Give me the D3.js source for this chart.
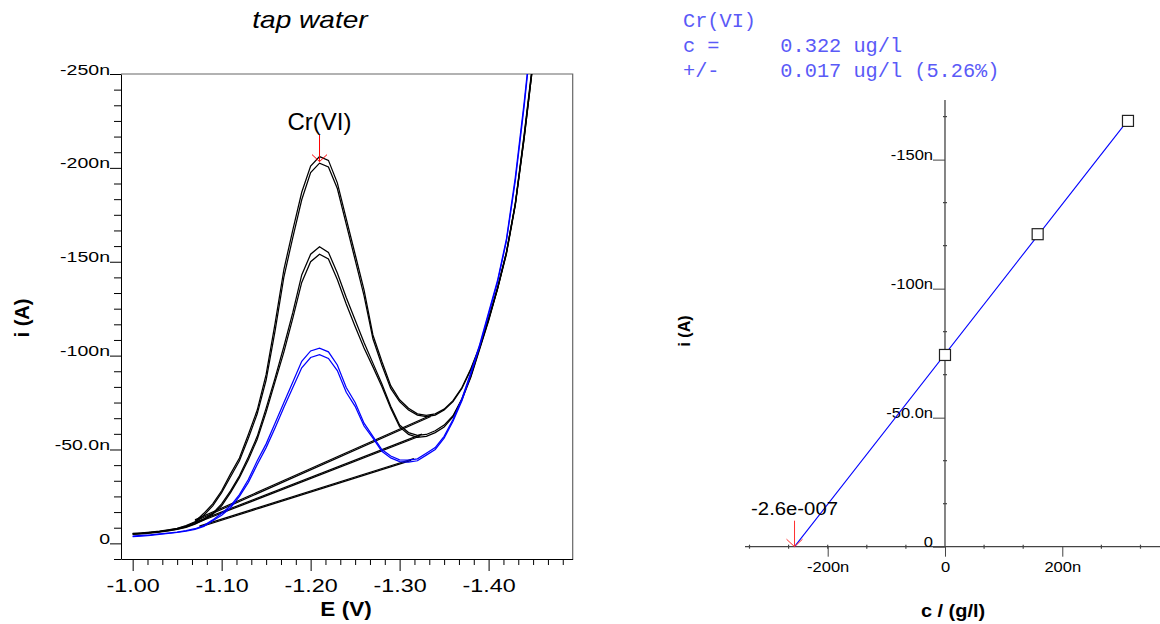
<!DOCTYPE html>
<html>
<head>
<meta charset="utf-8">
<script src="https://cdn.jsdelivr.net/npm/d3@7"></script>
<style>
body { margin: 0; background: #fff; }
svg { display: block; font-family: "Liberation Sans", Arial, sans-serif; }
</style>
</head>
<body>
<svg id="chart" width="1160" height="624"></svg>
<script>
// ---- voltammogram data (E in V, i in nA) ----
const potentials = [-1.00,-1.01,-1.02,-1.03,-1.04,-1.05,-1.06,-1.07,-1.08,-1.09,
  -1.10,-1.11,-1.12,-1.13,-1.14,-1.15,-1.16,-1.17,-1.18,-1.19,
  -1.20,-1.21,-1.22,-1.23,-1.24,-1.25,-1.26,-1.27,-1.28,-1.29,
  -1.30,-1.31,-1.32,-1.33,-1.34,-1.35,-1.36,-1.37,-1.38,-1.39,
  -1.40,-1.41,-1.42,-1.43,-1.44,-1.45];

// sample + 2nd addition (two replicates)
const add2a = [-5.3,-5.6,-6.0,-6.5,-7.2,-8.0,-9.5,-11.5,-16,-21,-28,-37,-45.5,-58,-71,-90,-117,-146,-167,-187,-201,-206,-204,-192,-173,-154,-135,-111,-97,-84,-76.5,-72,-69,-68.2,-69,-71.5,-76,-83,-93,-105,-120,-136,-155,-181,-218,-258];
const add2b = [-5.0,-5.3,-5.8,-6.3,-7.0,-7.8,-9.2,-11.0,-15,-20,-27,-35.5,-44,-56,-69,-87,-113,-142,-163,-183,-197.5,-202.5,-200.5,-189,-170,-151,-132,-109,-95,-82.5,-75.5,-71,-68.3,-67.5,-68.3,-71,-75.5,-82.5,-92.5,-104.5,-119.5,-135.5,-154,-180,-216,-256];
// sample + 1st addition
const add1a = [-5.0,-5.3,-5.7,-6.2,-6.8,-7.6,-8.8,-10.5,-13,-16,-21,-28,-36,-46,-57,-72,-88,-105,-123,-143,-154,-158,-155,-144,-131,-119,-107,-96,-85,-73,-63,-59,-57.5,-58,-60,-63,-68,-77,-89,-104,-119,-136,-155,-181,-217,-257];
const add1b = [-4.8,-5.1,-5.5,-6.0,-6.6,-7.4,-8.5,-10.2,-12.5,-15.5,-20,-27,-35,-44.5,-55.5,-70,-86,-102,-120,-139,-150,-154,-151.5,-140.5,-127.5,-115.5,-104,-94,-83.5,-72,-62,-58,-56.5,-57,-59,-62,-67.5,-76.5,-88.5,-103.5,-118.5,-135.5,-154.5,-180.5,-216,-256];
// sample
const samplea = [-3.9,-4.2,-4.5,-5.0,-5.5,-6.0,-6.8,-7.8,-9.5,-12.5,-16,-20,-26,-34,-44,-53,-64,-75,-86,-97,-102.5,-104,-102,-95,-83,-75,-64,-57,-50,-46.5,-44.5,-44.3,-45,-48,-51,-57,-66,-77,-91,-106,-123,-140,-162,-195,-235,-280];
const sampleb = [-3.6,-3.9,-4.3,-4.8,-5.3,-5.8,-6.5,-7.5,-9,-12,-15,-19,-25,-32.5,-42,-51,-61.5,-72.5,-83,-93.5,-99,-100.5,-98.5,-92,-80.5,-73,-62.5,-56,-49,-45.5,-43.5,-43.3,-44,-47,-50,-56,-65,-76,-90,-105,-122,-139,-161,-193,-233,-278];

const curveSets = [add2a, add2b, add1a, add1b, samplea, sampleb];
const curveColors = ['#000', '#000', '#000', '#000', '#0000ff', '#0000ff'];

// peak baselines: start E, start i, end E, end i
const baseStartE = [-1.07, -1.07, -1.07, -1.07, -1.075, -1.075];
const baseStartI = [-12.5, -11.8, -11.2, -10.6, -9.2, -8.6];
const baseEndE = [-1.337, -1.335, -1.325, -1.323, -1.316, -1.313];
const baseEndI = [-68.6, -67.6, -58.2, -57.2, -45.2, -44.2];

const yTicksL = [0, -50, -100, -150, -200, -250];
const yLabelsL = ['0', '-50.0n', '-100n', '-150n', '-200n', '-250n'];
const xTicksL = [-1.0, -1.1, -1.2, -1.3, -1.4];
const xLabelsL = ['-1.00', '-1.10', '-1.20', '-1.30', '-1.40'];

const peakE = -1.21, peakI = -206, peakName = 'Cr(VI)';

// ---- standard addition data (c in ng/l, i in nA) ----
const stdConc = [0, 158, 312];
const stdCurr = [-74.3, -121.1, -165];
const yTicksR = [0, -50, -100, -150];
const yLabelsR = ['0', '-50.0n', '-100n', '-150n'];
const xTicksR = [-200, 0, 200];
const xLabelsR = ['-200n', '0', '200n'];
const resultLines = ['Cr(VI)', 'c =     0.322 ug/l', '+/-     0.017 ug/l (5.26%)'];
const interceptLabel = '-2.6e-007';

const svg = d3.select('#chart');

function stretch(sel, sx) {
  sel.each(function () {
    const t = d3.select(this);
    const x = +t.attr('x') || 0;
    t.attr('x', x / sx).attr('transform', `scale(${sx},1)`);
  });
}

// ================= left: voltammograms =================
const xL = d3.scaleLinear().domain([-0.9869, -1.4945]).range([121, 572.7]);
const yL = d3.scaleLinear().domain([8.33, -250]).range([559, 74]);

svg.append('clipPath').attr('id', 'clipL')
  .append('rect').attr('x', 121).attr('y', 74).attr('width', 451.7).attr('height', 485);

// frame (top, right)
svg.append('path')
  .attr('d', `M${xL.range()[0]},${yL(-250)}H${xL.range()[1]}V${yL.range()[0]}`)
  .attr('fill', 'none').attr('stroke', '#666').attr('stroke-width', 1.2);

const plotL = svg.append('g').attr('clip-path', 'url(#clipL)');

// baselines
plotL.selectAll('line.base').data(baseStartE).join('line')
  .attr('class', 'base')
  .attr('x1', (d, k) => xL(baseStartE[k])).attr('y1', (d, k) => yL(baseStartI[k]))
  .attr('x2', (d, k) => xL(baseEndE[k])).attr('y2', (d, k) => yL(baseEndI[k]))
  .attr('stroke', '#000').attr('stroke-width', 1.2);

const lineL = d3.line().x((d, k) => xL(potentials[k])).y(d => yL(d));
plotL.selectAll('path.curve').data(curveSets).join('path')
  .attr('class', 'curve')
  .attr('d', lineL)
  .attr('fill', 'none')
  .attr('stroke', (d, k) => curveColors[k])
  .attr('stroke-width', 1.25);

// y axis
const yAxL = svg.append('g').attr('transform', `translate(${xL.range()[0]},0)`)
  .call(d3.axisLeft(yL).tickValues(yTicksL).tickSize(11).tickSizeOuter(0).tickPadding(0)
    .tickFormat((d, k) => yLabelsL[k]));
yAxL.attr('font-size', 15.5).attr('font-family', null);
yAxL.selectAll('.tick text').attr('dy', 0).attr('fill', '#000');
stretch(yAxL.selectAll('.tick text'), 1.26);

const yMinorL = d3.range(8.33, -250, -50 / 6).filter(v => Math.abs(v % 50) > 1);
svg.append('g').attr('transform', `translate(${xL.range()[0]},0)`)
  .call(d3.axisLeft(yL).tickValues(yMinorL).tickSize(7).tickFormat(''))
  .call(g => g.select('.domain').remove());

// x axis
const xAxL = svg.append('g').attr('transform', `translate(0,${yL.range()[0]})`)
  .call(d3.axisBottom(xL).tickValues(xTicksL).tickSize(12).tickSizeOuter(0)
    .tickFormat((d, k) => xLabelsL[k]));
xAxL.attr('font-size', 18.5).attr('font-family', null);
xAxL.selectAll('.tick text').attr('y', 33).attr('dy', 0).attr('fill', '#000');
stretch(xAxL.selectAll('.tick text'), 1.26);

const xMinorL = d3.range(-1.0, -1.49, -0.1 / 6).filter(v => Math.abs(Math.round(v * 10) - v * 10) > 0.01);
svg.append('g').attr('transform', `translate(0,${yL.range()[0]})`)
  .call(d3.axisBottom(xL).tickValues(xMinorL).tickSize(6).tickFormat(''))
  .call(g => g.select('.domain').remove());

// titles
svg.append('text').attr('transform', 'translate(310,28) scale(1.22,1)')
  .attr('text-anchor', 'middle').attr('font-size', 23).attr('font-style', 'italic')
  .text('tap water');
svg.append('text').attr('transform', 'translate(346,616) scale(1.1,1)')
  .attr('text-anchor', 'middle').attr('font-size', 20.5).attr('font-weight', 'bold')
  .text('E (V)');
svg.append('text').attr('transform', 'translate(29,318) rotate(-90)')
  .attr('text-anchor', 'middle').attr('font-size', 20).attr('font-weight', 'bold')
  .text('i (A)');

// peak marker
const px = xL(peakE), py = yL(peakI) + 5;
svg.append('text').attr('x', px).attr('y', 130).attr('text-anchor', 'middle')
  .attr('font-size', 24).text(peakName);
svg.append('path')
  .attr('d', `M${px},135V${py}M${px - 7.5},${py - 7}L${px},${py}L${px + 7.5},${py - 7}`)
  .attr('fill', 'none').attr('stroke', '#ff0000').attr('stroke-width', 1);

// ================= right: standard addition =================
const xR = d3.scaleLinear().domain([-341, 366.6]).range([745, 1160]);
const yR = d3.scaleLinear().domain([0, -173.1]).range([546.7, 100]);
const axisColor = '#444';

// result text
svg.append('g').selectAll('text').data(resultLines).join('text')
  .attr('x', 683).attr('y', (d, k) => 27 + k * 25)
  .attr('font-family', '"Liberation Mono", "Courier New", monospace')
  .attr('font-size', 20.3).attr('fill', '#5a5af7')
  .style('white-space', 'pre')
  .text(d => d);

// axes lines
svg.append('line').attr('x1', xR.range()[0]).attr('x2', xR.range()[1])
  .attr('y1', yR(0)).attr('y2', yR(0)).attr('stroke', axisColor).attr('stroke-width', 1.3);
svg.append('line').attr('x1', xR(0)).attr('x2', xR(0))
  .attr('y1', yR.range()[1]).attr('y2', yR(0)).attr('stroke', axisColor).attr('stroke-width', 1.3);

// y ticks
const yAxR = svg.append('g').attr('transform', `translate(${xR(0)},0)`)
  .call(d3.axisLeft(yR).tickValues(yTicksR).tickSize(12).tickPadding(0)
    .tickFormat((d, k) => yLabelsR[k]))
  .call(g => g.select('.domain').remove());
yAxR.attr('font-size', 14).attr('font-family', null);
yAxR.selectAll('.tick line').attr('stroke', axisColor);
yAxR.selectAll('.tick text').attr('dy', 0).attr('fill', '#000');
stretch(yAxR.selectAll('.tick text'), 1.18);

const yMinorR = d3.range(-50 / 3, -173, -50 / 3).filter(v => Math.abs(v % 50) > 1);
svg.append('g').selectAll('line').data(yMinorR).join('line')
  .attr('x1', xR(0) - 2).attr('x2', xR(0) + 2)
  .attr('y1', d => yR(d)).attr('y2', d => yR(d))
  .attr('stroke', axisColor).attr('stroke-width', 1.2);

// x ticks
const xAxR = svg.append('g').attr('transform', `translate(0,${yR(0)})`)
  .call(d3.axisBottom(xR).tickValues(xTicksR).tickSize(10)
    .tickFormat((d, k) => xLabelsR[k]))
  .call(g => g.select('.domain').remove());
xAxR.attr('font-size', 14).attr('font-family', null);
xAxR.selectAll('.tick line').attr('stroke', axisColor);
xAxR.selectAll('.tick text').attr('y', 25).attr('dy', 0).attr('fill', '#000');
stretch(xAxR.selectAll('.tick text'), 1.18);

const xMinorR = d3.range(-1000 / 3, 366, 200 / 3).filter(v => Math.abs(v % 200) > 1);
svg.append('g').selectAll('line').data(xMinorR).join('line')
  .attr('x1', d => xR(d)).attr('x2', d => xR(d))
  .attr('y1', yR(0) - 2).attr('y2', yR(0) + 2)
  .attr('stroke', axisColor).attr('stroke-width', 1.2);

// regression line
const mx = d3.mean(stdConc), my = d3.mean(stdCurr);
const slope = d3.sum(stdConc, (c, k) => (c - mx) * (stdCurr[k] - my)) /
  d3.sum(stdConc, c => (c - mx) * (c - mx));
const icpt = my - slope * mx;
const xInt = -icpt / slope;
svg.append('line')
  .attr('x1', xR(xInt)).attr('y1', yR(0))
  .attr('x2', xR(d3.max(stdConc))).attr('y2', yR(icpt + slope * d3.max(stdConc)))
  .attr('stroke', '#0000ff').attr('stroke-width', 1.1);

svg.append('g').selectAll('rect').data(stdConc).join('rect')
  .attr('x', d => xR(d) - 5.5).attr('y', (d, k) => yR(stdCurr[k]) - 5.5)
  .attr('width', 11).attr('height', 11)
  .attr('fill', '#fff').attr('stroke', '#222').attr('stroke-width', 1.2);

// intercept marker
const ix = xR(xInt), iy = yR(0);
svg.append('path')
  .attr('d', `M${ix},${iy - 26}V${iy}M${ix - 8},${iy - 7.5}L${ix},${iy}L${ix + 8},${iy - 7.5}`)
  .attr('fill', 'none').attr('stroke', '#ff3030').attr('stroke-width', 1);
svg.append('text').attr('transform', `translate(${ix},515) scale(1.16,1)`)
  .attr('text-anchor', 'middle').attr('font-size', 17.5).text(interceptLabel);

// axis titles
svg.append('text').attr('transform', 'translate(953,617) scale(1.05,1)')
  .attr('text-anchor', 'middle').attr('font-size', 19).attr('font-weight', 'bold')
  .text('c / (g/l)');
svg.append('text').attr('transform', 'translate(690,331) rotate(-90)')
  .attr('text-anchor', 'middle').attr('font-size', 16).attr('font-weight', 'bold')
  .text('i (A)');
</script>
</body>
</html>
